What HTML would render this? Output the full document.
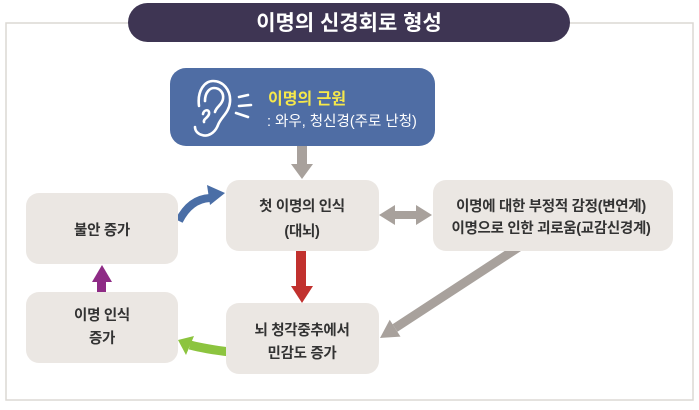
<!DOCTYPE html>
<html>
<head>
<meta charset="utf-8">
<style>
  html,body{margin:0;padding:0;background:#fff;}
  body{width:699px;height:410px;overflow:hidden;}
  svg{display:block;}
  text{font-family:"Liberation Sans","Noto Sans CJK KR",sans-serif;}
</style>
</head>
<body>
<svg width="699" height="410" viewBox="0 0 699 410" xmlns="http://www.w3.org/2000/svg">
  <!-- outer frame -->
  <rect x="6" y="23" width="687" height="377" fill="#fff" stroke="#dcd8d4" stroke-width="1.5"/>

  <!-- title pill -->
  <rect x="128" y="3" width="442" height="39" rx="19.5" fill="#3e3553"/>
  <text x="349" y="30" text-anchor="middle" font-size="21" font-weight="bold" fill="#fff">이명의 신경회로 형성</text>

  <!-- source box -->
  <rect x="170" y="68" width="265" height="78" rx="16" fill="#4f6da4"/>
  <g fill="none" stroke="#fff" stroke-width="2.6" stroke-linecap="round">
    <path d="M199 106 C197 90 205 81 213 81 C223 81 231 90 230 102 C229 113 221 117 218 125 C215 133 208 137 202 135 C198 134 195 131 195 127"/>
    <path d="M205 101 C205 92 210 88 214 88 C220 88 224 93 223 99 C222 105 216 107 215 112"/>
    <path d="M203 114 C204 109 210 109 209 114 C208 118 203 119 204 122"/>
    <path d="M239 97 L248 95"/>
    <path d="M239 106 L251 105"/>
    <path d="M236 113 L248 117"/>
  </g>
  <text x="268" y="104" font-size="16" font-weight="bold" fill="#f6e84a">이명의 근원</text>
  <text x="267" y="126" font-size="14.5" fill="#fff">: 와우, 청신경(주로 난청)</text>

  <!-- gray down arrow from source -->
  <rect x="297" y="146" width="10" height="19" fill="#a8a19c"/>
  <polygon points="291,164 313,164 302,179" fill="#a8a19c"/>

  <!-- diagonal gray arrow (under right box) -->
  <line x1="522" y1="245" x2="395" y2="328" stroke="#a8a19c" stroke-width="9"/>
  <polygon points="380,338 389.7,319.8 400.5,336.6" fill="#a8a19c"/>

  <!-- blue curved arrow -->
  <path d="M179 221 Q190 199 210 198" fill="none" stroke="#4a6ea6" stroke-width="8"/>
  <polygon points="207,185 225,193 210,205" fill="#4a6ea6"/>

  <!-- green curved arrow -->
  <path d="M230 352 Q205 349 190 345" fill="none" stroke="#8cc43f" stroke-width="9"/>
  <polygon points="178,340 194,336 186,355" fill="#8cc43f"/>

  <!-- boxes -->
  <g fill="#ebe7e3">
    <rect x="26" y="193" width="152" height="71" rx="13"/>
    <rect x="226" y="180" width="153" height="71" rx="13"/>
    <rect x="433" y="180" width="240" height="71" rx="13"/>
    <rect x="26" y="292" width="152" height="71" rx="13"/>
    <rect x="226" y="303" width="153" height="71" rx="13"/>
  </g>

  <!-- red down arrow -->
  <rect x="296" y="251" width="10" height="36" fill="#c1312e"/>
  <polygon points="291,286 313,286 302,303" fill="#c1312e"/>

  <!-- purple up arrow -->
  <rect x="97" y="281" width="9" height="11" fill="#8e2b85"/>
  <polygon points="92,282 112,282 102,265" fill="#8e2b85"/>

  <!-- double gray arrow -->
  <rect x="394" y="211" width="23" height="8" fill="#a8a19c"/>
  <polygon points="379,215 395,205 395,225" fill="#a8a19c"/>
  <polygon points="432,215 416,205 416,225" fill="#a8a19c"/>

  <!-- box texts -->
  <g font-size="14.5" font-weight="bold" fill="#333" text-anchor="middle" letter-spacing="-0.3">
    <text x="102" y="235">불안 증가</text>
    <text x="302" y="211">첫 이명의 인식</text>
    <text x="302" y="236">(대뇌)</text>
    <text x="551" y="211">이명에 대한 부정적 감정(변연계)</text>
    <text x="551" y="233">이명으로 인한 괴로움(교감신경계)</text>
    <text x="102" y="320">이명 인식</text>
    <text x="102" y="343">증가</text>
    <text x="302" y="335">뇌 청각중추에서</text>
    <text x="302" y="358">민감도 증가</text>
  </g>
</svg>
</body>
</html>
